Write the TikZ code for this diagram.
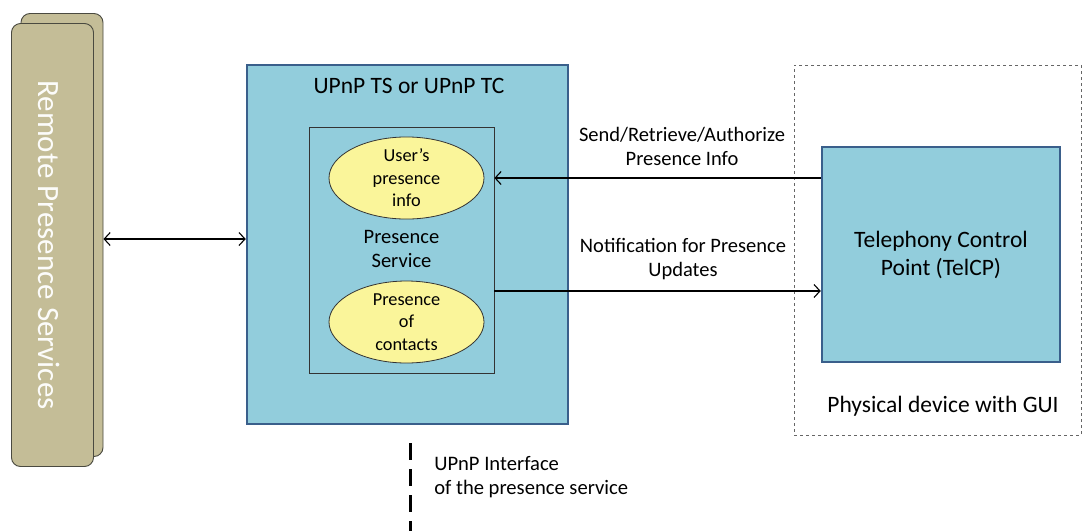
\documentclass[tikz,border=0pt]{standalone}
\usepackage{fontspec}
\setmainfont{Carlito}
\usepackage{tikz}
\usetikzlibrary{arrows.meta,shapes,positioning,calc}

\definecolor{upnpfill}{HTML}{92CDDC}
\definecolor{upnpline}{HTML}{3A5F8B}
\definecolor{ellfill}{HTML}{FAF59A}
\definecolor{tanfill}{HTML}{C4BD97}
\definecolor{tanline}{HTML}{4A4A40}

\begin{document}
\begin{tikzpicture}[x=1pt,y=-1pt,semithick,inner sep=0pt,
    bigbox/.style={draw=upnpline,line width=2.5pt,fill=upnpfill,rectangle},
    svcbox/.style={draw=black!80,line width=0.8pt,fill=upnpfill,rectangle,minimum width=185pt,minimum height=246pt},
    infoell/.style={draw=black!80,line width=0.8pt,fill=ellfill,ellipse,minimum width=155pt,minimum height=82pt,
      align=center,font=\fontsize{18.3}{22.5}\selectfont},
    remote/.style={draw=tanline,line width=0.9pt,fill=tanfill,rounded corners=9pt,minimum width=82pt,minimum height=443pt},
    lbl/.style={align=center,font=\fontsize{20.5}{24.5}\selectfont},
    biglbl/.style={align=center,font=\fontsize{23.5}{28}\selectfont},
    flow/.style={line width=1.1pt,-{Straight Barb[length=6pt,width=13pt]}},
    both/.style={line width=1.1pt,{Straight Barb[length=6pt,width=13pt]}-{Straight Barb[length=6pt,width=13pt]}}]
        \useasboundingbox (0,0) rectangle (1082,531);

        % remote side
        \node (rpsback) at (62,235) [remote] {};
        \node (rps) at (52.5,245) [remote] {};
        \node (rpslbl) at ([xshift=-3pt]rps) [rotate=-90,text=white!95!tanfill,font=\fontsize{31}{36}\selectfont] {Remote Presence Services};

        % device side
        \node (device) at (937.5,250) [draw=black!60,dashed,line width=0.6pt,minimum width=287pt,minimum height=370pt] {};
        \node (telcp) at (941,254.5) [bigbox,minimum width=238pt,minimum height=215pt,biglbl] {Telephony Control\\Point (TelCP)};
        \node (devlbl) at (943,406) [biglbl] {Physical device with GUI};

        % UPnP box
        \node (upnp) at (407.5,244.5) [bigbox,minimum width=321pt,minimum height=359pt] {};
        \node (upnplbl) at (409,86) [biglbl] {UPnP TS or UPnP TC};
        \node (svc) at (401.5,250) [svcbox] {};
        \node (svclbl) at (401.5,249) [lbl] {Presence\\Service};
        \node (users) at (406.5,178) [infoell] {User's\\presence\\info};
        \node (contacts) at (406.5,322) [infoell] {Presence\\of\\contacts};

        % connectors
        \draw[both] (rpsback.east |- 0,239) -- (upnp.west |- 0,239);
        \draw[flow] (telcp.west |- 0,178) -- (svc.east |- 0,178);
        \draw[flow] (svc.east |- 0,291) -- (telcp.west |- 0,291);
        \node (sendlbl) at (682,146.5) [lbl] {Send/Retrieve/Authorize\\Presence Info};
        \node (notelbl) at (683,259) [lbl] {Notification for Presence\\Updates};

        % interface
        \coordinate (ifacetop) at (410,443);
        \coordinate (ifacebot) at (410,531);
        \draw[line width=3pt,dash pattern=on 17pt off 9pt] (ifacetop) -- (ifacebot);
        \node (ifacelbl) at (434,477) [right,align=left,font=\fontsize{20.6}{24}\selectfont] {UPnP Interface\\of the presence service};
      \end{tikzpicture}
\end{document}
